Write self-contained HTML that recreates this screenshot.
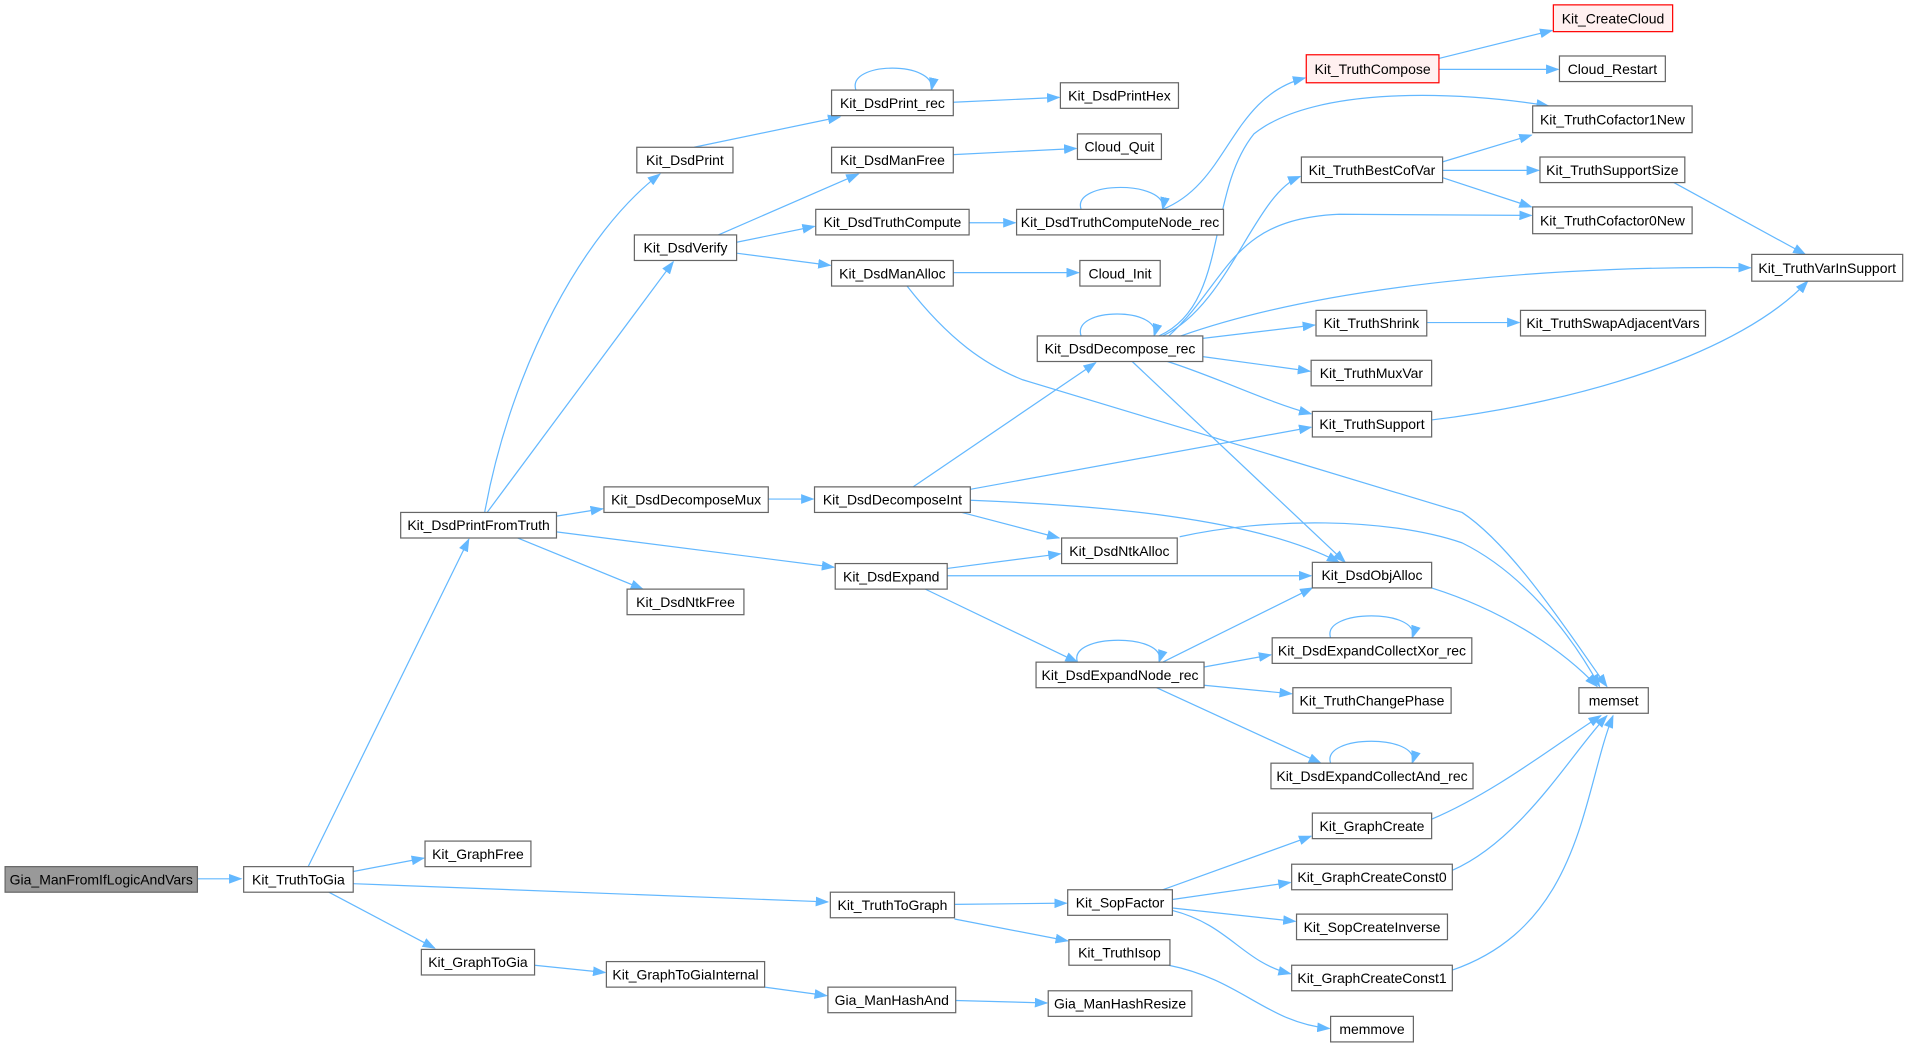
<!DOCTYPE html>
<html><head><meta charset="utf-8"><style>
html,body{margin:0;padding:0;background:#fff;}
svg{display:block;}
text{font-family:"Liberation Sans",Arial,sans-serif;font-size:11.5px;fill:#000;text-anchor:middle;dominant-baseline:central;}
.n{fill:#fff;stroke:#666;stroke-width:1;}
.r{fill:#fff0f0;stroke:#ff0000;stroke-width:1;}
.g{fill:#999;stroke:#666;stroke-width:1;}
.e{fill:none;stroke:#63b8ff;stroke-width:1;marker-end:url(#a);}
</style></head><body>
<svg width="1909" height="1048" viewBox="0 0 1568 861" xmlns="http://www.w3.org/2000/svg">
<defs><marker id="a" markerUnits="userSpaceOnUse" markerWidth="11" markerHeight="8" refX="10" refY="4" orient="auto"><path d="M0,0 L11,4 L0,8 z" fill="#63b8ff"/></marker></defs>
<g>
<path class="e" d="M162,722 L198,722"/>
<path class="e" d="M253,712 L385,443"/>
<path class="e" d="M290,716 L348,705"/>
<path class="e" d="M290,726 L680,741"/>
<path class="e" d="M270,733 L357,779"/>
<path class="e" d="M398,421 C420,300 480,190 542,143"/>
<path class="e" d="M400,421 L553,215"/>
<path class="e" d="M457,424 L495,418"/>
<path class="e" d="M425,442 L528,484"/>
<path class="e" d="M457,437 L685,466"/>
<path class="e" d="M439,793 L497,799"/>
<path class="e" d="M570,121 L690,96"/>
<path class="e" d="M590,193 L705,143"/>
<path class="e" d="M605,199 L669,186"/>
<path class="e" d="M605,208 L682,218"/>
<path class="e" d="M631,410 L668,410"/>
<path class="e" d="M628,811 L679,818"/>
<path class="e" d="M703,74 C695,50 770,50 765,74"/>
<path class="e" d="M783,84 L870,80"/>
<path class="e" d="M783,127 L884,122"/>
<path class="e" d="M796,183 L834,183"/>
<path class="e" d="M783,224 L886,224"/>
<path class="e" d="M888,172 C880,148 960,148 955,172"/>
<path class="e" d="M955,172 C1010,150 1010,80 1072,64"/>
<path class="e" d="M745,235 C780,280 810,300 840,312 L1201,421 C1245,450 1295,530 1320,564"/>
<path class="e" d="M750,400 L900,298"/>
<path class="e" d="M797,402 L1077,351"/>
<path class="e" d="M797,411 C900,415 1030,425 1100,462"/>
<path class="e" d="M790,421 L870,442"/>
<path class="e" d="M778,467 L871,455"/>
<path class="e" d="M778,473 L1077,473"/>
<path class="e" d="M760,484 L885,544"/>
<path class="e" d="M784,743 L876,742"/>
<path class="e" d="M784,755 L877,773"/>
<path class="e" d="M785,822 L860,824"/>
<path class="e" d="M1182,48 L1275,25"/>
<path class="e" d="M1182,57 L1280,57"/>
<path class="e" d="M888,276 C880,252 955,252 948,276"/>
<path class="e" d="M952,276 C1010,250 990,160 1030,110 C1080,70 1200,75 1272,87"/>
<path class="e" d="M955,276 C1010,250 1030,160 1068,145"/>
<path class="e" d="M960,276 C1010,230 1010,180 1100,176 L1258,177"/>
<path class="e" d="M970,276 C1100,230 1300,218 1438,220"/>
<path class="e" d="M988,278 L1080,267"/>
<path class="e" d="M988,293 L1076,305"/>
<path class="e" d="M959,297 C1000,310 1040,330 1077,340"/>
<path class="e" d="M930,297 L1105,462"/>
<path class="e" d="M1185,133 L1258,111"/>
<path class="e" d="M1185,140 L1264,140"/>
<path class="e" d="M1185,146 L1258,170"/>
<path class="e" d="M1375,150 L1483,209"/>
<path class="e" d="M1172,265 L1248,265"/>
<path class="e" d="M1176,345 C1300,330 1430,290 1485,231"/>
<path class="e" d="M969,441 C1040,425 1140,425 1201,446 C1250,470 1290,520 1314,564"/>
<path class="e" d="M1176,483 C1230,500 1280,530 1312,564"/>
<path class="e" d="M885,544 C877,520 960,520 952,544"/>
<path class="e" d="M955,544 L1078,483"/>
<path class="e" d="M989,548 L1044,538"/>
<path class="e" d="M989,563 L1061,570"/>
<path class="e" d="M950,565 L1085,627"/>
<path class="e" d="M1093,524 C1085,500 1168,500 1160,524"/>
<path class="e" d="M1093,627 C1085,603 1168,603 1160,627"/>
<path class="e" d="M1176,673 C1230,650 1280,610 1315,588"/>
<path class="e" d="M1193,715 C1250,690 1290,620 1320,588"/>
<path class="e" d="M1193,797 C1300,760 1300,650 1325,588"/>
<path class="e" d="M955,731 L1077,687"/>
<path class="e" d="M963,739 L1060,725"/>
<path class="e" d="M963,746 L1064,757"/>
<path class="e" d="M963,748 C1010,760 1020,790 1060,800"/>
<path class="e" d="M960,793 C1020,805 1040,840 1092,845"/>
</g>
<g>
<rect class="g" x="4" y="712" width="158" height="21"/><text x="83" y="722.5">Gia_ManFromIfLogicAndVars</text>
<rect class="n" x="200" y="712" width="90" height="21"/><text x="245" y="722.5">Kit_TruthToGia</text>
<rect class="n" x="329" y="421" width="128" height="21"/><text x="393" y="431.5">Kit_DsdPrintFromTruth</text>
<rect class="n" x="349" y="691" width="87" height="21"/><text x="392.5" y="701.5">Kit_GraphFree</text>
<rect class="n" x="346" y="780" width="93" height="21"/><text x="392.5" y="790.5">Kit_GraphToGia</text>
<rect class="n" x="523" y="121" width="79" height="21"/><text x="562.5" y="131.5">Kit_DsdPrint</text>
<rect class="n" x="521" y="193" width="84" height="21"/><text x="563" y="203.5">Kit_DsdVerify</text>
<rect class="n" x="496" y="400" width="135" height="21"/><text x="563.5" y="410.5">Kit_DsdDecomposeMux</text>
<rect class="n" x="515" y="484" width="96" height="21"/><text x="563" y="494.5">Kit_DsdNtkFree</text>
<rect class="n" x="498" y="790" width="130" height="21"/><text x="563" y="800.5">Kit_GraphToGiaInternal</text>
<rect class="n" x="683" y="74" width="100" height="21"/><text x="733" y="84.5">Kit_DsdPrint_rec</text>
<rect class="n" x="683" y="121" width="100" height="21"/><text x="733" y="131.5">Kit_DsdManFree</text>
<rect class="n" x="670" y="172" width="126" height="21"/><text x="733" y="182.5">Kit_DsdTruthCompute</text>
<rect class="n" x="683" y="214" width="100" height="21"/><text x="733" y="224.5">Kit_DsdManAlloc</text>
<rect class="n" x="669" y="400" width="128" height="21"/><text x="733" y="410.5">Kit_DsdDecomposeInt</text>
<rect class="n" x="686" y="463" width="92" height="21"/><text x="732" y="473.5">Kit_DsdExpand</text>
<rect class="n" x="682" y="733" width="102" height="21"/><text x="733" y="743.5">Kit_TruthToGraph</text>
<rect class="n" x="680" y="811" width="105" height="21"/><text x="732.5" y="821.5">Gia_ManHashAnd</text>
<rect class="n" x="871" y="68" width="97" height="21"/><text x="919.5" y="78.5">Kit_DsdPrintHex</text>
<rect class="n" x="885" y="110" width="69" height="21"/><text x="919.5" y="120.5">Cloud_Quit</text>
<rect class="n" x="835" y="172" width="170" height="21"/><text x="920" y="182.5">Kit_DsdTruthComputeNode_rec</text>
<rect class="n" x="887" y="214" width="66" height="21"/><text x="920" y="224.5">Cloud_Init</text>
<rect class="n" x="852" y="276" width="136" height="21"/><text x="920" y="286.5">Kit_DsdDecompose_rec</text>
<rect class="n" x="872" y="442" width="95" height="21"/><text x="919.5" y="452.5">Kit_DsdNtkAlloc</text>
<rect class="n" x="851" y="544" width="138" height="21"/><text x="920" y="554.5">Kit_DsdExpandNode_rec</text>
<rect class="n" x="877" y="731" width="86" height="21"/><text x="920" y="741.5">Kit_SopFactor</text>
<rect class="n" x="878" y="772" width="83" height="21"/><text x="919.5" y="782.5">Kit_TruthIsop</text>
<rect class="n" x="861" y="814" width="118" height="21"/><text x="920" y="824.5">Gia_ManHashResize</text>
<rect class="r" x="1073" y="45" width="109" height="23"/><text x="1127.5" y="56.5">Kit_TruthCompose</text>
<rect class="n" x="1069" y="129" width="116" height="21"/><text x="1127" y="139.5">Kit_TruthBestCofVar</text>
<rect class="n" x="1081" y="255" width="91" height="21"/><text x="1126.5" y="265.5">Kit_TruthShrink</text>
<rect class="n" x="1077" y="296" width="99" height="21"/><text x="1126.5" y="306.5">Kit_TruthMuxVar</text>
<rect class="n" x="1078" y="338" width="98" height="21"/><text x="1127" y="348.5">Kit_TruthSupport</text>
<rect class="n" x="1078" y="462" width="98" height="21"/><text x="1127" y="472.5">Kit_DsdObjAlloc</text>
<rect class="n" x="1045" y="524" width="164" height="21"/><text x="1127" y="534.5">Kit_DsdExpandCollectXor_rec</text>
<rect class="n" x="1062" y="565" width="130" height="21"/><text x="1127" y="575.5">Kit_TruthChangePhase</text>
<rect class="n" x="1044" y="627" width="166" height="21"/><text x="1127" y="637.5">Kit_DsdExpandCollectAnd_rec</text>
<rect class="n" x="1078" y="668" width="98" height="21"/><text x="1127" y="678.5">Kit_GraphCreate</text>
<rect class="n" x="1061" y="710" width="132" height="21"/><text x="1127" y="720.5">Kit_GraphCreateConst0</text>
<rect class="n" x="1065" y="751" width="124" height="21"/><text x="1127" y="761.5">Kit_SopCreateInverse</text>
<rect class="n" x="1061" y="793" width="132" height="21"/><text x="1127" y="803.5">Kit_GraphCreateConst1</text>
<rect class="n" x="1093" y="835" width="68" height="21"/><text x="1127" y="845.5">memmove</text>
<rect class="r" x="1276" y="4" width="98" height="22"/><text x="1325" y="15">Kit_CreateCloud</text>
<rect class="n" x="1281" y="46" width="87" height="21"/><text x="1324.5" y="56.5">Cloud_Restart</text>
<rect class="n" x="1259" y="87" width="131" height="22"/><text x="1324.5" y="98">Kit_TruthCofactor1New</text>
<rect class="n" x="1265" y="129" width="119" height="21"/><text x="1324.5" y="139.5">Kit_TruthSupportSize</text>
<rect class="n" x="1259" y="170" width="131" height="22"/><text x="1324.5" y="181">Kit_TruthCofactor0New</text>
<rect class="n" x="1249" y="255" width="152" height="21"/><text x="1325" y="265.5">Kit_TruthSwapAdjacentVars</text>
<rect class="n" x="1439" y="209" width="124" height="22"/><text x="1501" y="220">Kit_TruthVarInSupport</text>
<rect class="n" x="1297" y="565" width="57" height="21"/><text x="1325.5" y="575.5">memset</text>
</g>
</svg>
</body></html>
